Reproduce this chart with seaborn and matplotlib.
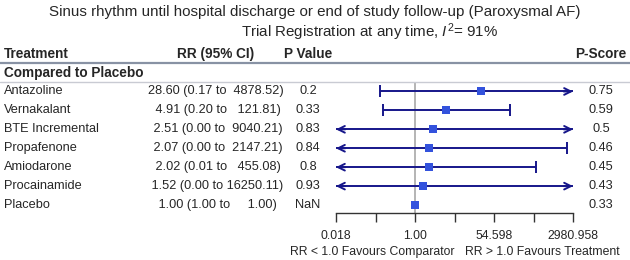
import numpy as np
import pandas as pd
import seaborn as sns
import matplotlib.pyplot as plt
from matplotlib.transforms import blended_transform_factory

treatments = ['Antazoline', 'Vernakalant', 'BTE Incremental', 'Propafenone',
              'Amiodarone', 'Procainamide', 'Placebo']
rr = [28.60, 4.91, 2.51, 2.07, 2.02, 1.52, 1.00]
lower = [0.17, 0.20, 0.00, 0.00, 0.01, 0.00, 1.00]
upper = [4878.52, 121.81, 9040.21, 2147.21, 455.08, 16250.11, 1.00]
p_value = ['0.2', '0.33', '0.83', '0.84', '0.8', '0.93', 'NaN']
p_score = ['0.75', '0.59', '0.5', '0.46', '0.45', '0.43', '0.33']

df = pd.DataFrame({'Treatment': treatments, 'RR': rr, 'lower': lower,
                   'upper': upper, 'row': range(len(treatments))})

sns.set_theme(style="white")
plt.rcParams['font.family'] = ['Liberation Sans', 'DejaVu Sans']
plt.rcParams['mathtext.fontset'] = 'custom'
plt.rcParams['mathtext.rm'] = 'Liberation Sans'
plt.rcParams['mathtext.it'] = 'Liberation Sans:italic'

line_col = '#16168a'
box_col = '#3352dd'
W, H = 630, 260

fig = plt.figure(figsize=(6.3, 2.6), dpi=100)
ax = fig.add_axes([336 / W, 1 - 213 / H, (573 - 336) / W, (213 - 82) / H])

xmin, xmax = np.exp(-4), np.exp(8)
ax.set_xscale('log', base=np.e)
ax.set_xlim(xmin, xmax)
ax.set_ylim(6.42, -0.5)

ax.axvline(1, color='#a8a8a8', lw=1.2, zorder=0)

# confidence intervals, arrows where they leave the axis
for _, r in df.iterrows():
    lo = max(r['lower'], xmin) if r['lower'] > 0 else xmin
    hi = min(r['upper'], xmax)
    y = r['row']
    if lo == hi:
        continue
    ax.plot([lo, hi], [y, y], color=line_col, lw=1.4, solid_capstyle='butt', zorder=2)
    if r['lower'] <= xmin:
        ax.annotate('', xy=(lo, y), xytext=(lo * 1.6, y),
                    arrowprops=dict(arrowstyle='->', color=line_col, lw=1.4,
                                    mutation_scale=12, shrinkA=0, shrinkB=0))
    else:
        ax.plot(lo, y, marker='|', color=line_col, ms=8, mew=1.4)
    if r['upper'] >= xmax:
        ax.annotate('', xy=(hi, y), xytext=(hi / 1.6, y),
                    arrowprops=dict(arrowstyle='->', color=line_col, lw=1.4,
                                    mutation_scale=12, shrinkA=0, shrinkB=0))
    else:
        ax.plot(hi, y, marker='|', color=line_col, ms=8, mew=1.4)

sns.scatterplot(data=df, x='RR', y='row', marker='s', color=box_col, s=36,
                linewidth=0, legend=False, ax=ax, zorder=3)

ticks = np.exp(np.arange(-4, 9, 2))
ax.set_xticks(ticks)
ax.set_xticklabels(['0.018', '', '1.00', '', '54.598', '', '2980.958'])
ax.minorticks_off()
ax.tick_params(axis='x', direction='out', length=6.5, width=1, color='#333333',
               labelsize=8.8, pad=6, bottom=True)
ax.set_yticks([])
ax.set_xlabel('')
ax.set_ylabel('')
for s in ['top', 'left', 'right']:
    ax.spines[s].set_visible(False)
ax.spines['bottom'].set_color('#333333')
ax.spines['bottom'].set_linewidth(1)

# table text
tr = blended_transform_factory(fig.transFigure, ax.transData)
fs = 9.2
fb = 9.8
ax.text(4 / W, -2, 'Treatment', transform=tr, fontsize=fb, fontweight='bold', va='center')
ax.text(216 / W, -2, 'RR (95% CI)', transform=tr, fontsize=fb, fontweight='bold',
        va='center', ha='center')
ax.text(308 / W, -2, 'P Value', transform=tr, fontsize=fb, fontweight='bold',
        va='center', ha='center')
ax.text(601 / W, -2, 'P-Score', transform=tr, fontsize=fb, fontweight='bold',
        va='center', ha='center')
ax.text(4 / W, -1, 'Compared to Placebo', transform=tr, fontsize=fb,
        fontweight='bold', va='center')

for i, t in enumerate(treatments):
    ci = '%5.2f (%4.2f to %8.2f)' % (rr[i], lower[i], upper[i])
    ax.text(4 / W, i, t, transform=tr, fontsize=fs, va='center')
    ax.text(216 / W, i, ci, transform=tr, fontsize=fs, va='center', ha='center')
    ax.text(308 / W, i, p_value[i], transform=tr, fontsize=fs, va='center', ha='center')
    ax.text(601 / W, i, p_score[i], transform=tr, fontsize=fs, va='center', ha='center')

ax.plot([0, 1], [-1.5, -1.5], transform=tr, color='#8892a4', lw=1.6, clip_on=False)
ax.plot([0, 1], [-0.5, -0.5], transform=tr, color='#c9cbd3', lw=1, clip_on=False)

fig.text(0.5, 1 - 12 / H, 'Sinus rhythm until hospital discharge or end of study follow-up (Paroxysmal AF)',
         ha='center', va='center', fontsize=10.9)
fig.text(370 / W, 1 - 32 / H, r'Trial Registration at any time, $I^2$= 91%',
         ha='center', va='center', fontsize=10.9)

fig.text(454 / W, 1 - 252 / H, 'RR < 1.0 Favours Comparator', ha='right',
         va='center', fontsize=8.8)
fig.text(465 / W, 1 - 252 / H, 'RR > 1.0 Favours Treatment', ha='left',
         va='center', fontsize=8.8)

plt.savefig('out.png', dpi=100)
